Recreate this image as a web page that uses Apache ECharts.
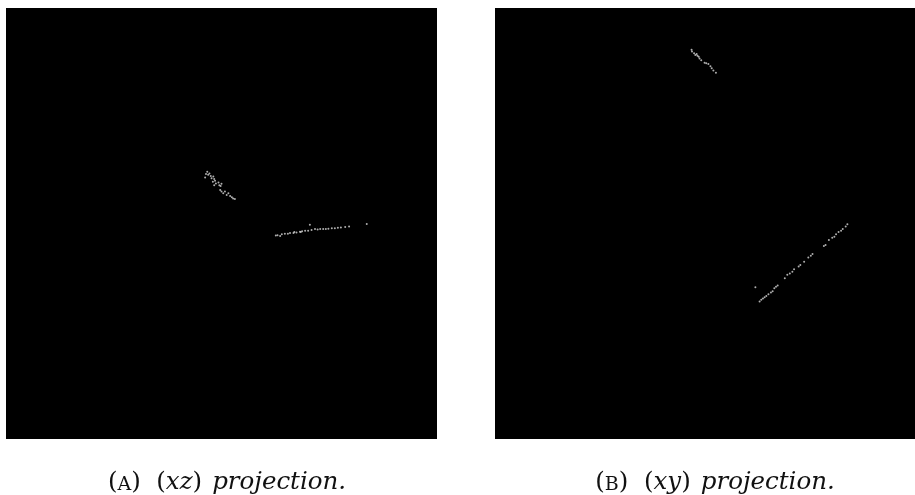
<!DOCTYPE html>
<html>
<head>
<meta charset="utf-8">
<style>
  html, body { margin: 0; padding: 0; background: #ffffff; }
  #chart { width: 915px; height: 495px; }
</style>
<script src="https://cdn.jsdelivr.net/npm/echarts@6/dist/echarts.min.js"></script>
</head>
<body>
<div id="chart"></div>
<script>
// (xz) projection: x values and z values (axis units 0..100)
const xzX = [
  46.7, 46.4, 46.2, 46.9, 47.2, 47.5, 47.7, 48.1, 48.3, 48.5, 48.0, 48.7, 49.3, 49.5,
  49.8, 50.0, 49.7, 50.0, 50.4, 50.8, 51.2, 51.6, 52.0, 52.4, 52.7, 53.1, 48.3,
  62.6, 63.0, 63.6, 64.0, 64.7, 65.4, 65.9, 66.9, 67.4, 68.2, 68.7, 69.4, 70.1, 70.5,
  70.9, 71.7, 72.3, 72.9, 73.6, 74.2, 74.8, 75.6, 76.3, 77.0, 77.7, 78.7, 79.6, 83.7,
  68.4, 66.7
];
const xzZ = [
  62.0, 61.5, 60.7, 61.3, 61.6, 61.0, 60.5, 60.9, 60.3, 59.9, 59.7, 59.3, 59.5, 58.9,
  58.7, 59.2, 57.8, 57.4, 57.0, 57.4, 56.6, 57.0, 56.4, 56.1, 55.8, 55.7, 58.9,
  47.2, 47.3, 47.1, 47.5, 47.6, 47.6, 47.8, 48.0, 47.9, 48.1, 48.2, 48.3, 48.3, 49.7,
  48.5, 48.7, 48.6, 48.7, 48.7, 48.7, 48.8, 48.9, 48.9, 49.0, 49.1, 49.2, 49.3, 49.9,
  48.0, 47.8
];
// (xy) projection: x values and y values (axis units 0..100)
const xyX = [
  46.8, 46.9, 47.4, 47.7, 48.2, 48.5, 48.7, 49.1, 49.9, 50.3, 50.8, 51.3, 51.6, 52.0,
  52.6, 48.0,
  83.9, 83.5, 82.8, 82.4, 81.8, 81.2, 80.8, 80.3, 79.5, 78.7, 78.3, 75.6, 75.2, 74.6,
  73.6, 72.7, 72.3, 71.2, 70.8, 70.2, 69.6, 69.0, 67.3, 66.9, 66.5, 66.1, 65.7, 65.1,
  64.6, 64.2, 63.8, 63.4, 63.0, 62.0
];
const xyY = [
  90.3, 89.9, 89.5, 89.1, 88.9, 88.7, 88.3, 87.9, 87.3, 87.2, 87.0, 86.5, 86.0, 85.5,
  85.0, 89.3,
  49.8, 49.3, 48.7, 48.3, 48.0, 47.5, 46.9, 46.7, 46.2, 45.0, 44.8, 42.9, 42.5, 42.1,
  41.1, 40.4, 40.0, 39.4, 38.8, 38.4, 38.1, 37.3, 35.6, 35.3, 35.0, 34.3, 34.0, 33.6,
  33.2, 32.9, 32.6, 32.3, 31.9, 35.2
];
const captionA = ['A', 'xz'];
const captionB = ['B', 'xy'];

function pairs(xs, ys) { return xs.map((v, i) => [v, ys[i]]); }
function caption(c) {
  return '{u|(}{sc|' + c[0] + '}{u|)  (}{i|' + c[1] + '}{u|)}  {i|projection.}';
}
const serif = 'DejaVu Serif';
const rich = {
  u:  { fontFamily: serif, fontSize: 24.5, fontWeight: 'normal', color: '#111', lineHeight: 32, verticalAlign: 'bottom' },
  sc: { fontFamily: serif, fontSize: 19, fontWeight: 'normal', color: '#111', lineHeight: 28, verticalAlign: 'bottom' },
  i:  { fontFamily: serif, fontSize: 24.5, fontWeight: 'normal', fontStyle: 'italic', color: '#111', lineHeight: 32, verticalAlign: 'bottom' }
};

const chart = echarts.init(document.getElementById('chart'));
chart.setOption({
  animation: false,
  backgroundColor: '#ffffff',
  title: [
    { text: caption(captionA), left: 222, top: 458, textAlign: 'center', textStyle: { fontWeight: 'normal', rich: rich } },
    { text: caption(captionB), left: 710, top: 458, textAlign: 'center', textStyle: { fontWeight: 'normal', rich: rich } }
  ],
  grid: [
    { left: 6, top: 8, width: 431, height: 431, show: true, backgroundColor: '#000000', borderWidth: 0 },
    { left: 495, top: 8, width: 431, height: 431, show: true, backgroundColor: '#000000', borderWidth: 0 }
  ],
  xAxis: [
    { gridIndex: 0, type: 'value', min: 0, max: 100, show: false },
    { gridIndex: 1, type: 'value', min: 0, max: 100, show: false }
  ],
  yAxis: [
    { gridIndex: 0, type: 'value', min: 0, max: 100, show: false },
    { gridIndex: 1, type: 'value', min: 0, max: 100, show: false }
  ],
  series: [
    { type: 'scatter', xAxisIndex: 0, yAxisIndex: 0, data: pairs(xzX, xzZ),
      symbolSize: 2, itemStyle: { color: '#d8d8d8' }, silent: true },
    { type: 'scatter', xAxisIndex: 1, yAxisIndex: 1, data: pairs(xyX, xyY),
      symbolSize: 2, itemStyle: { color: '#d8d8d8' }, silent: true }
  ]
});
</script>
</body>
</html>
